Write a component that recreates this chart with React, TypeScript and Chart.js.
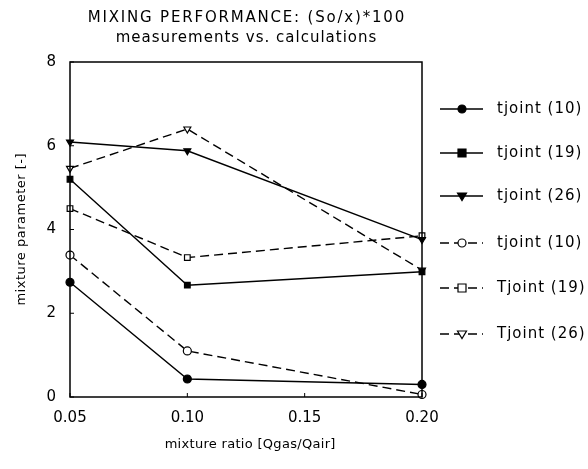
import React, { useEffect, useRef } from "react";
import { Chart, registerables } from "chart.js";

Chart.register(...registerables);

const xValues = [0.05, 0.1, 0.2];
const seriesNames = ["tjoint (10)", "tjoint (19)", "tjoint (26)", "tjoint (10)", "Tjoint (19)", "Tjoint (26)"];
const meas10 = [2.74, 0.43, 0.3];
const meas19 = [5.2, 2.67, 2.99];
const meas26 = [6.09, 5.88, 3.76];
const calc10 = [3.39, 1.1, 0.06];
const calc19 = [4.5, 3.33, 3.85];
const calc26 = [5.46, 6.4, 3.03];
const yTicks = [0, 2, 4, 6, 8];
const xTicks = [0.05, 0.1, 0.15, 0.2];
const titleLines = ["MIXING PERFORMANCE: (So/x)*100", "measurements vs. calculations"];
const xTitle = "mixture ratio [Qgas/Qair]";
const yTitle = "mixture parameter [-]";

const FONT = "'DejaVu Sans', sans-serif";

type Mk = { style: string; filled: boolean };
const markers: Mk[] = [
  { style: "circle", filled: true },
  { style: "rect", filled: true },
  { style: "triangle", filled: true },
  { style: "circle", filled: false },
  { style: "rect", filled: false },
  { style: "triangle", filled: false },
];

function drawMarker(ctx: CanvasRenderingContext2D, x: number, y: number, m: Mk) {
  ctx.save();
  ctx.setLineDash([]);
  ctx.beginPath();
  if (m.style === "circle") {
    ctx.arc(x, y, 4, 0, Math.PI * 2);
  } else if (m.style === "rect") {
    ctx.rect(x - 4, y - 4, 8, 8);
  } else {
    ctx.moveTo(x - 4.5, y - 3);
    ctx.lineTo(x + 4.5, y - 3);
    ctx.lineTo(x, y + 4.5);
    ctx.closePath();
  }
  ctx.fillStyle = m.filled ? "#000" : "#fff";
  ctx.fill();
  ctx.lineWidth = 1.2;
  ctx.strokeStyle = "#000";
  ctx.stroke();
  ctx.restore();
}

function spaced(ctx: any, text: string, x: number, y: number, spacing: number) {
  ctx.save();
  ctx.letterSpacing = `${spacing}px`;
  ctx.fillText(text, x + spacing / 2, y);
  ctx.restore();
}

const decorPlugin = {
  id: "decor",
  afterDatasetsDraw(chart: any) {
    const ctx: CanvasRenderingContext2D = chart.ctx;
    const a = chart.chartArea;
    const xs = chart.scales.x;
    const ys = chart.scales.y;
    ctx.save();
    ctx.strokeStyle = "#000";
    ctx.lineWidth = 1.5;
    ctx.setLineDash([]);
    ctx.strokeRect(a.left, a.top, a.right - a.left, a.bottom - a.top);
    ctx.lineWidth = 1;
    yTicks.forEach((v) => {
      const py = ys.getPixelForValue(v);
      ctx.beginPath();
      ctx.moveTo(a.left, py);
      ctx.lineTo(a.left + 4, py);
      ctx.stroke();
    });
    xTicks.forEach((v) => {
      const px = xs.getPixelForValue(v);
      ctx.beginPath();
      ctx.moveTo(px, a.bottom);
      ctx.lineTo(px, a.bottom - 4);
      ctx.stroke();
    });
    ctx.fillStyle = "#000";
    ctx.textAlign = "center";
    ctx.textBaseline = "middle";
    const cx = (a.left + a.right) / 2;
    ctx.font = `15px ${FONT}`;
    spaced(ctx, titleLines[0], cx, 18, 1.8);
    spaced(ctx, titleLines[1], cx, 38, 1);
    ctx.font = `13px ${FONT}`;
    spaced(ctx, xTitle, cx + 4, 445, 0.3);
    ctx.save();
    ctx.translate(22, (a.top + a.bottom) / 2);
    ctx.rotate(-Math.PI / 2);
    spaced(ctx, yTitle, 0, 0, 0.5);
    ctx.restore();
    // legend
    const legendY = [109, 153, 196, 243, 288, 334];
    chart.data.datasets.forEach((ds: any, i: number) => {
      const y = legendY[i];
      ctx.save();
      ctx.lineWidth = 1.4;
      ctx.setLineDash(ds.borderDash || []);
      ctx.beginPath();
      ctx.moveTo(440, y);
      ctx.lineTo(483, y);
      ctx.stroke();
      ctx.restore();
      drawMarker(ctx, 462, y, markers[i]);
      ctx.font = `15px ${FONT}`;
      ctx.textAlign = "left";
      (ctx as any).letterSpacing = "1px";
      ctx.fillText(ds.label, 497, y);
      (ctx as any).letterSpacing = "0px";
    });
    ctx.restore();
  },
};

export default function App() {
  const ref = useRef<HTMLCanvasElement | null>(null);
  useEffect(() => {
    if (!ref.current) return;
    const all = [meas10, meas19, meas26, calc10, calc19, calc26];
    const datasets = all.map((vals, i) => ({
      label: seriesNames[i],
      data: vals.map((v, j) => ({ x: xValues[j], y: v })),
      borderColor: "#000",
      borderWidth: 1.4,
      borderDash: i < 3 ? [] : [9, 5],
      pointStyle: markers[i].style,
      pointRotation: markers[i].style === "triangle" ? 180 : 0,
      pointRadius: 4,
      pointBorderWidth: 1.2,
      pointBackgroundColor: markers[i].filled ? "#000" : "#fff",
      pointBorderColor: "#000",
      fill: false,
      tension: 0,
      clip: false as any,
    }));
    const chart = new Chart(ref.current, {
      type: "line",
      data: { datasets },
      options: {
        animation: false,
        responsive: false,
        devicePixelRatio: 1,
        layout: { padding: { top: 62, right: 166, left: 0, bottom: 0 } },
        plugins: { legend: { display: false }, title: { display: false }, tooltip: { enabled: false } },
        scales: {
          x: {
            type: "linear",
            min: 0.05,
            max: 0.2,
            afterFit: (s: any) => { s.height = 72; },
            afterBuildTicks: (s: any) => { s.ticks = xTicks.map((v) => ({ value: v })); },
            grid: { display: false, drawTicks: false },
            border: { display: false },
            ticks: {
              padding: 12,
              color: "#000",
              font: { family: FONT, size: 15 },
              maxRotation: 0,
              callback: (v: any) => Number(v).toFixed(2),
            },
          },
          y: {
            type: "linear",
            min: 0,
            max: 8,
            afterFit: (s: any) => { s.width = 70; },
            afterBuildTicks: (s: any) => { s.ticks = yTicks.map((v) => ({ value: v })); },
            grid: { display: false, drawTicks: false },
            border: { display: false },
            ticks: {
              padding: 14,
              color: "#000",
              font: { family: FONT, size: 15 },
              callback: (v: any) => String(v),
            },
          },
        },
      },
      plugins: [decorPlugin],
    });
    return () => chart.destroy();
  }, []);
  return (
    <div style={{ position: "fixed", left: 0, top: 0, width: 588, height: 469, background: "#fff" }}>
      <canvas ref={ref} width={588} height={469} style={{ width: 588, height: 469 }} />
    </div>
  );
}
